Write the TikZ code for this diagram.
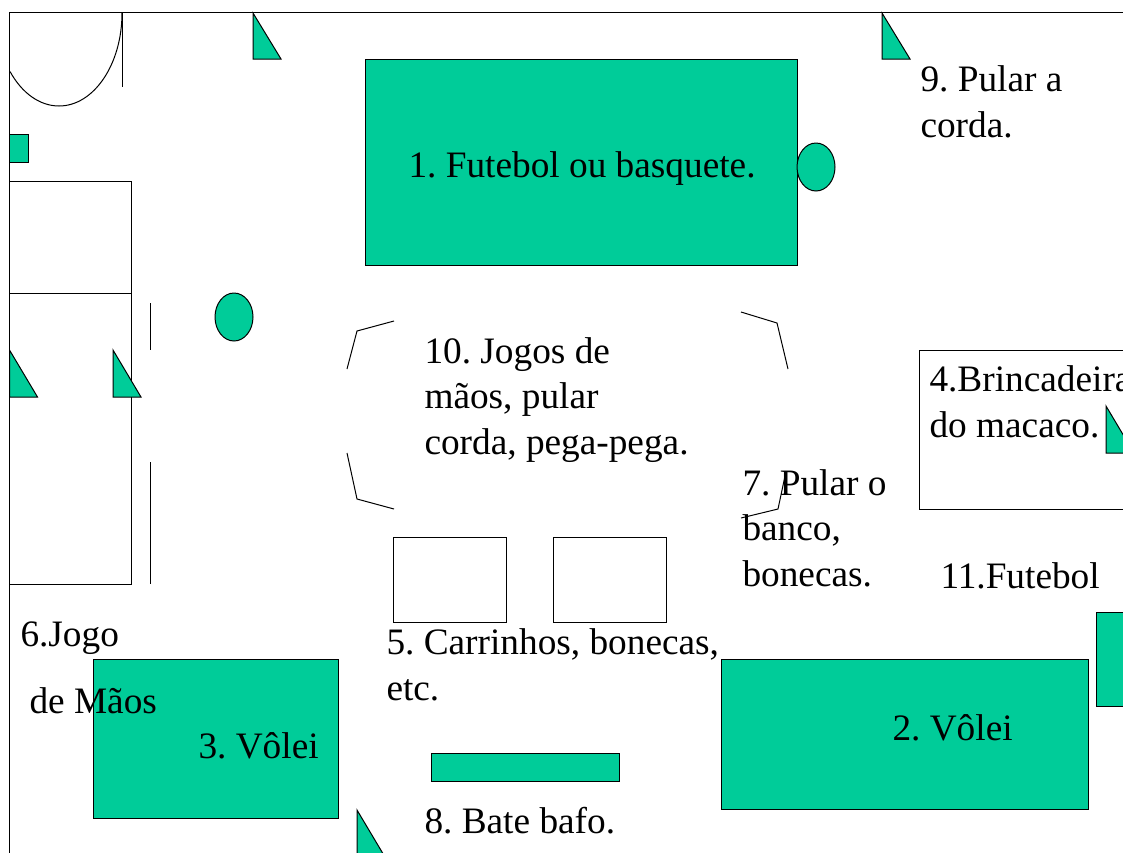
\documentclass[tikz,border=0pt]{standalone}
\usepackage{fontspec}
\setmainfont{Liberation Serif}
\frenchspacing
\definecolor{quadra}{HTML}{00CC99}
\begin{document}
\begin{tikzpicture}[x=1pt,y=-1pt,line width=1pt,
	green shape/.style = {draw,fill=quadra},
	label node/.style = {anchor=base west,inner sep=0pt,align=left,font=\fontsize{37.3}{45.5}\selectfont}]
	
	\useasboundingbox (0,0) rectangle (1123,852);
	\clip (0,0) rectangle (1123,852);
	
	\draw (1130,12.5) -- (9.5,12.5) -- (9.5,860);
	\draw (122,13) arc [start angle=0,end angle=141,x radius=63,y radius=93];
	\draw (122,13) -- (122,87);
	\draw (9.5,181) rectangle (131,584);
	\draw (9.5,293.5) -- (131,293.5);
	\draw (150,303) -- (150,350);
	\draw (150,462) -- (150,584);
	\draw (347,369) -- (357,331) -- (394,321);
	\draw (347,453) -- (357,499) -- (394,509);
	\draw (741,312) -- (777,323) -- (788,369);
	\draw (741,518) -- (778,509) -- (785,476);
	\draw (393.5,537) rectangle (506,622);
	\draw (553,537) rectangle (666,622);
	\draw (919,350) rectangle (1130,509);
	
	\draw[green shape] (9.5,134) rectangle (28,162);
	\draw[green shape] (365.5,59) rectangle (797,265);
	\draw[green shape] (93.5,659) rectangle (338,818);
	\draw[green shape] (721.5,659) rectangle (1088,809);
	\draw[green shape] (431,753) rectangle (619,781);
	\draw[green shape] (1096.5,612) rectangle (1130,706);
	\draw[green shape] (816,167) ellipse [x radius=19,y radius=24];
	\draw[green shape] (234,317) ellipse [x radius=19,y radius=24];
	
	\draw[green shape] (253,13) -- (253,59) -- (281,59) -- cycle;
	\draw[green shape] (882,13) -- (882,59) -- (910,59) -- cycle;
	\draw[green shape] (9.5,350) -- (9.5,397) -- (37.5,397) -- cycle;
	\draw[green shape] (113,350) -- (113,397) -- (141,397) -- cycle;
	\draw[green shape] (1106,406) -- (1106,453) -- (1134,453) -- cycle;
	\draw[green shape] (357,810) -- (357,857) -- (385,857) -- cycle;
	
	\node[label node] (futebol) at (408,177) {1. Futebol ou basquete.};
	\node[label node] (volei2) at (892,740) {2. Vôlei};
	\node[label node] (volei3) at (198,758) {3. Vôlei};
	\node[label node] (macaco) at (929,437) {4.Brincadeira\\do macaco.};
	\node[label node] (carrinhos) at (386,700) {5. Carrinhos, bonecas,\\etc.};
	\node[label node] (jogo) at (20,646) {6.Jogo};
	\node[label node] (maos) at (29,713) {de Mãos};
	\node[label node] (banco) at (742,586) {7. Pular o\\banco,\\bonecas.};
	\node[label node] (bafo) at (424,833) {8. Bate bafo.};
	\node[label node] (corda) at (920,137) {9. Pular a\\corda.};
	\node[label node] (jogos) at (424,454) {10. Jogos de\\mãos, pular\\corda, pega-pega.};
	\node[label node] (futebol2) at (940,588) {11.Futebol};
	
\end{tikzpicture}
\end{document}
